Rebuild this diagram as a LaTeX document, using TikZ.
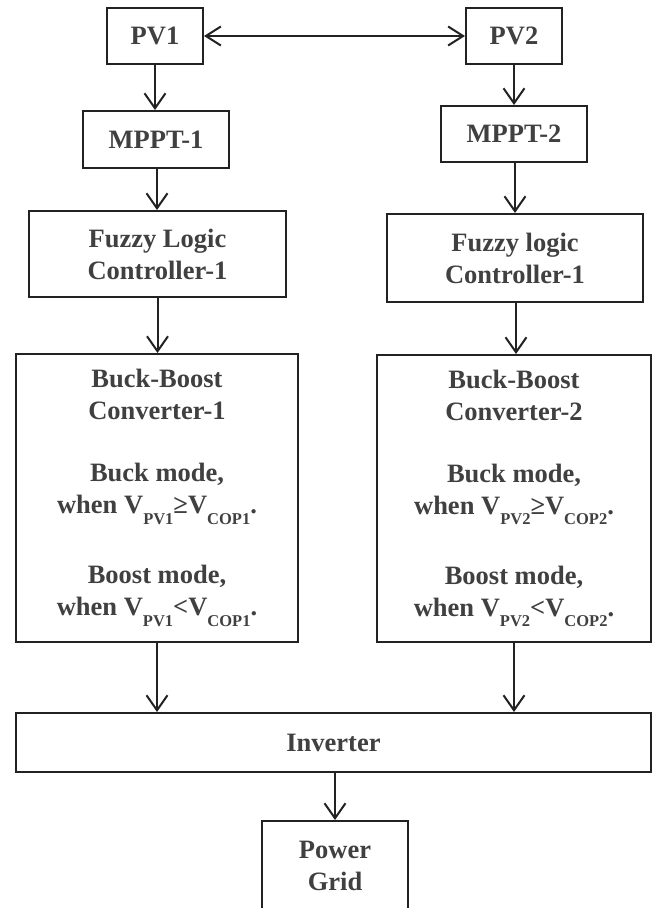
\documentclass[tikz,border=0pt]{standalone}
\usepackage{fontspec}
\setmainfont{Liberation Serif}
\usetikzlibrary{arrows.meta}
\definecolor{txtgray}{HTML}{404040}
\definecolor{linegray}{HTML}{222222}
\newcommand\lowsub[1]{\raisebox{-0.4em}{\fontsize{16.5}{16.5}\selectfont #1}}
\begin{document}
\begin{tikzpicture}[x=1pt,y=-1pt,
  blk/.style={draw=linegray,line width=2pt,rectangle,inner sep=0pt,
    font=\fontsize{26.5}{32}\selectfont\bfseries,text=txtgray,align=center},
  conn/.style={draw=linegray,line width=2pt,
    -{Straight Barb[length=15pt,width=21pt,line width=2pt]}},
  dconn/.style={draw=linegray,line width=2pt,
    {Straight Barb[length=15pt,width=19pt,line width=2pt]}-{Straight Barb[length=15pt,width=19pt,line width=2pt]}}]
\useasboundingbox (0,0) rectangle (655,908);
\fill[white] (0,0) rectangle (655,908);

\node[blk,minimum width=96pt,minimum height=56pt] (pv1) at (155,36) {PV1};
\node[blk,minimum width=96pt,minimum height=56pt] (pv2) at (514,36) {PV2};
\node[blk,minimum width=146pt,minimum height=57pt] (mppt1) at (156,139.5) {MPPT-1};
\node[blk,minimum width=146pt,minimum height=56pt] (mppt2) at (514,134) {MPPT-2};
\node[blk,minimum width=257pt,minimum height=86pt] (fz1) at (157.5,254) {Fuzzy Logic\\Controller-1};
\node[blk,minimum width=256pt,minimum height=88pt] (fz2) at (515,258) {Fuzzy logic\\Controller-1};
\node[blk,minimum width=282pt,minimum height=288pt] (bb1) at (157,498) {Buck-Boost\\Converter-1\\[30pt]Buck mode,\\when V\lowsub{PV1}≥V\lowsub{COP1}.\\[38pt]Boost mode,\\when V\lowsub{PV1}<V\lowsub{COP1}.};
\node[blk,minimum width=274pt,minimum height=287pt] (bb2) at (514,498.5) {Buck-Boost\\Converter-2\\[30pt]Buck mode,\\when V\lowsub{PV2}≥V\lowsub{COP2}.\\[38pt]Boost mode,\\when V\lowsub{PV2}<V\lowsub{COP2}.};
\node[blk,minimum width=635pt,minimum height=59pt] (inv) at (333.5,742.5) {Inverter};
\node[blk,minimum width=146pt,minimum height=90pt] (grid) at (335,866) {Power\\Grid};

\path[dconn] (pv1.east) -- (pv2.west);
\path[conn] (pv1.south) -- (pv1.south |- mppt1.north);
\path[conn] (pv2.south) -- (pv2.south |- mppt2.north);
\path[conn] ([xshift=1pt]mppt1.south) -- ([xshift=1pt]mppt1.south |- fz1.north);
\path[conn] ([xshift=1pt]mppt2.south) -- ([xshift=1pt]mppt2.south |- fz2.north);
\path[conn] (fz1.south) -- (fz1.south |- bb1.north);
\path[conn] ([xshift=1pt]fz2.south) -- ([xshift=1pt]fz2.south |- bb2.north);
\path[conn] (bb1.south) -- (bb1.south |- inv.north);
\path[conn] (bb2.south) -- (bb2.south |- inv.north);
\path[conn] (inv.south -| grid.north) -- (grid.north);
\end{tikzpicture}
\end{document}
